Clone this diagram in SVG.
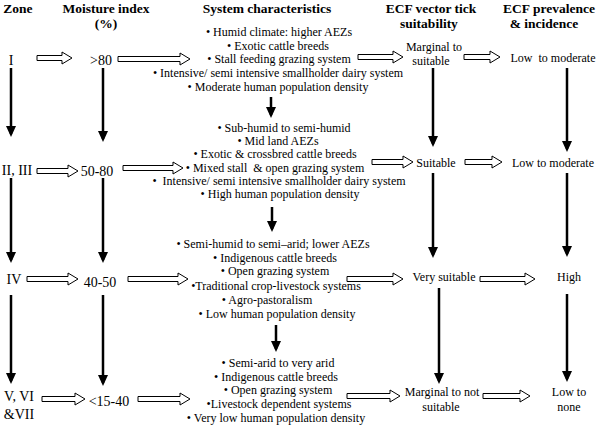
<svg xmlns="http://www.w3.org/2000/svg" width="600" height="429" viewBox="0 0 600 429">
<style>
text{font-family:"Liberation Serif","Times New Roman",serif;fill:#000;text-anchor:middle}
.h{font-weight:bold;font-size:13.5px}
.z{font-size:14px}
.c{font-size:12px}
.e{font-size:12px}
.ha{fill:#fff;stroke:#000;stroke-width:1}
.va{stroke:#000;stroke-width:2.5;fill:none;marker-end:url(#ah)}
</style>
<defs>
<marker id="ah" markerUnits="userSpaceOnUse" markerWidth="11" markerHeight="11" refX="8" refY="5" orient="auto" viewBox="0 0 11 10">
<path d="M0,0 L11,5 L0,10 z" fill="#000"/>
</marker>
</defs>
<rect width="600" height="429" fill="#fff"/>
<g id="headers">
<text class="h" x="18" y="13">Zone</text>
<text class="h" x="106" y="13">Moisture index</text>
<text class="h" x="106" y="28">(%)</text>
<text class="h" x="267" y="13">System characteristics</text>
<text class="h" x="431" y="13">ECF vector tick</text>
<text class="h" x="429" y="28">suitability</text>
<text class="h" x="549" y="13">ECF prevalence</text>
<text class="h" x="544" y="28">&amp; incidence</text>
</g>
<g id="zone1"><text class="z" x="11" y="65">I</text></g>
<g id="moist1"><text class="z" x="101" y="65">&gt;80</text></g>
<g id="sys1">
<text class="c" x="279" y="36">• Humid climate: higher AEZs</text>
<text class="c" x="278" y="50">• Exotic cattle breeds</text>
<text class="c" x="279" y="63">• Stall feeding grazing system</text>
<text class="c" x="278" y="77">• Intensive/ semi intensive smallholder dairy system</text>
<text class="c" x="278" y="91">• Moderate human population density</text>
</g>
<g id="tick1">
<text class="e" x="434" y="51">Marginal to</text>
<text class="e" x="431" y="65">suitable</text>
</g>
<g id="prev1"><text class="e" x="553" y="62" style="white-space:pre">Low  to moderate</text></g>
<g id="zone2"><text class="z" x="17" y="175">II, III</text></g>
<g id="moist2"><text class="z" x="97" y="176">50-80</text></g>
<g id="sys2">
<text class="c" x="284" y="132">• Sub-humid to semi-humid</text>
<text class="c" x="278" y="145">• Mid land AEZs</text>
<text class="c" x="275" y="158">• Exotic &amp; crossbred cattle breeds</text>
<text class="c" x="275" y="172" style="white-space:pre">• Mixed stall  &amp; open grazing system</text>
<text class="c" x="279" y="185" style="white-space:pre">•  Intensive/ semi intensive smallholder dairy system</text>
<text class="c" x="280" y="198">• High human population density</text>
</g>
<g id="tick2"><text class="e" x="436" y="167">Suitable</text></g>
<g id="prev2"><text class="e" x="553" y="167">Low to moderate</text></g>
<g id="zone3"><text class="z" x="14" y="284">IV</text></g>
<g id="moist3"><text class="z" x="100" y="287">40-50</text></g>
<g id="sys3">
<text class="c" x="273" y="248">• Semi-humid to semi–arid; lower AEZs</text>
<text class="c" x="275" y="262">• Indigenous cattle breeds</text>
<text class="c" x="275" y="275">• Open grazing system</text>
<text class="c" x="276" y="290">•Traditional crop-livestock systems</text>
<text class="c" x="267" y="304">• Agro-pastoralism</text>
<text class="c" x="277" y="318">• Low human population density</text>
</g>
<g id="tick3"><text class="e" x="444" y="281">Very suitable</text></g>
<g id="prev3"><text class="e" x="569" y="281">High</text></g>
<g id="zone4">
<text class="z" x="19" y="401">V, VI</text>
<text class="z" x="19" y="419">&amp;VII</text>
</g>
<g id="moist4"><text class="z" x="109" y="406">&lt;15-40</text></g>
<g id="sys4">
<text class="c" x="278" y="367">• Semi-arid to very arid</text>
<text class="c" x="276" y="381">• Indigenous cattle breeds</text>
<text class="c" x="278" y="394">• Open grazing system</text>
<text class="c" x="279" y="408">•Livestock dependent systems</text>
<text class="c" x="276" y="422">• Very low human population density</text>
</g>
<g id="tick4">
<text class="e" x="442" y="396">Marginal to not</text>
<text class="e" x="441" y="411">suitable</text>
</g>
<g id="prev4">
<text class="e" x="569" y="396">Low to</text>
<text class="e" x="569" y="411">none</text>
</g>
<g id="connectors">
<polygon class="ha" points="37,55.5 62,55.5 62,52 72,58 62,64 62,60.5 37,60.5"/>
<polygon class="ha" points="118,56.5 180,56.5 180,53 190,59 180,65 180,61.5 118,61.5"/>
<polygon class="ha" points="358,54.5 393,54.5 393,51 403,57 393,63 393,59.5 358,59.5"/>
<polygon class="ha" points="464,54.5 490,54.5 490,51 500,57 490,63 490,59.5 464,59.5"/>
<polygon class="ha" points="37,168.5 68,168.5 68,165 78,171 68,177 68,173.5 37,173.5"/>
<polygon class="ha" points="123,165.5 173,165.5 173,162 183,168 173,174 173,170.5 123,170.5"/>
<polygon class="ha" points="372,159.5 403,159.5 403,156 413,162 403,168 403,164.5 372,164.5"/>
<polygon class="ha" points="465,159.5 492,159.5 492,156 502,162 492,168 492,164.5 465,164.5"/>
<polygon class="ha" points="27,276.5 68,276.5 68,273 78,279 68,285 68,281.5 27,281.5"/>
<polygon class="ha" points="128,276.5 178,276.5 178,273 188,279 178,285 178,281.5 128,281.5"/>
<polygon class="ha" points="347,276.5 393,276.5 393,273 403,279 393,285 393,281.5 347,281.5"/>
<polygon class="ha" points="480,276.5 525,276.5 525,273 535,279 525,285 525,281.5 480,281.5"/>
<polygon class="ha" points="42,396.5 75,396.5 75,393 85,399 75,405 75,401.5 42,401.5"/>
<polygon class="ha" points="138,396.5 180,396.5 180,393 190,399 180,405 180,401.5 138,401.5"/>
<polygon class="ha" points="347,393.5 390,393.5 390,390 400,396 390,402 390,398.5 347,398.5"/>
<polygon class="ha" points="483,393.5 520,393.5 520,390 530,396 520,402 520,398.5 483,398.5"/>
<line class="va" x1="11" y1="68" x2="11" y2="134"/>
<line class="va" x1="11" y1="178" x2="11" y2="260"/>
<line class="va" x1="11" y1="295" x2="11" y2="381"/>
<line class="va" x1="103" y1="68" x2="103" y2="139"/>
<line class="va" x1="103" y1="178" x2="103" y2="260"/>
<line class="va" x1="103" y1="295" x2="103" y2="383"/>
<line class="va" x1="271" y1="97" x2="271" y2="115"/>
<line class="va" x1="272" y1="207" x2="272" y2="229"/>
<line class="va" x1="276" y1="325" x2="276" y2="349"/>
<line class="va" x1="433" y1="68" x2="433" y2="144"/>
<line class="va" x1="433" y1="173" x2="433" y2="255"/>
<line class="va" x1="439" y1="288" x2="439" y2="381"/>
<line class="va" x1="567" y1="68" x2="567" y2="149"/>
<line class="va" x1="567" y1="173" x2="567" y2="254"/>
<line class="va" x1="567" y1="294" x2="567" y2="379"/>
</g>
</svg>
